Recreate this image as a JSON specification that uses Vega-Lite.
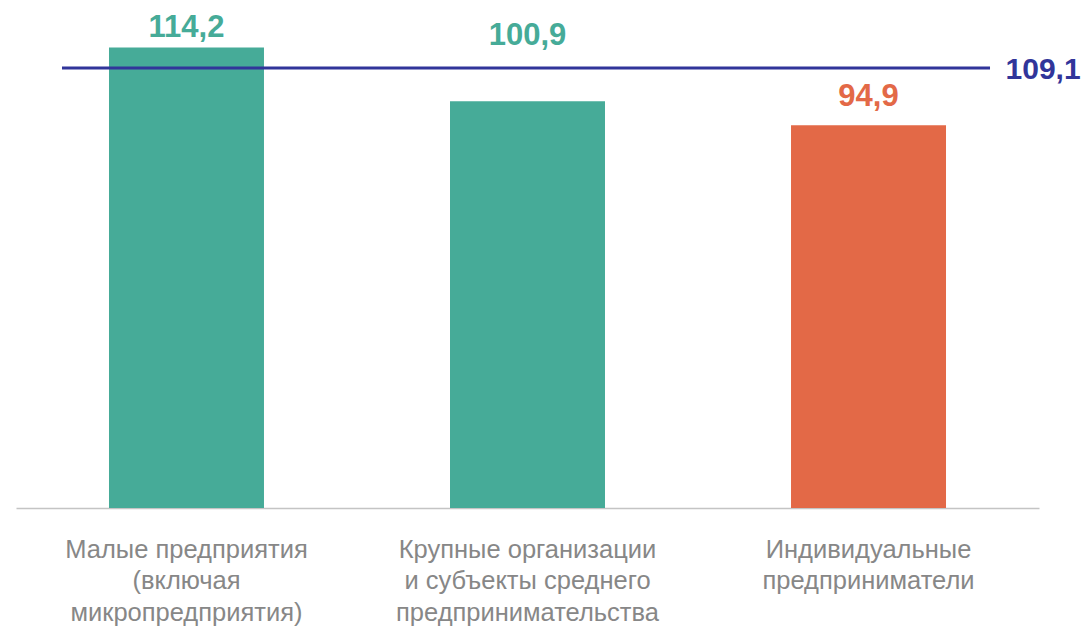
{
  "$schema": "https://vega.github.io/schema/vega-lite/v6.json",
  "width": 1023,
  "height": 504,
  "autosize": {"type": "none"},
  "padding": {"left": 16, "top": 4, "right": 47, "bottom": 119},
  "background": "white",
  "config": {"view": {"stroke": null}, "font": "Liberation Sans"},
  "datasets": {
    "bars": [
      {"cat": "Малые предприятия (включая микропредприятия)", "value": 114.2, "label": "114,2", "group": "growth"},
      {"cat": "Крупные организации и субъекты среднего предпринимательства", "value": 100.9, "label": "100,9", "group": "growth"},
      {"cat": "Индивидуальные предприниматели", "value": 94.9, "label": "94,9", "group": "decline"}
    ],
    "total": [
      {"value": 109.1, "label": "109,1"}
    ]
  },
  "data": {"name": "bars"},
  "encoding": {
    "x": {
      "field": "cat",
      "type": "nominal",
      "sort": null,
      "scale": {"paddingInner": 0.5455, "paddingOuter": 0.2727},
      "axis": {
        "title": null,
        "labelAngle": 0,
        "ticks": false,
        "domainColor": "#c4c4c4",
        "domainWidth": 1.5,
        "labelFont": "Liberation Sans",
        "labelFontSize": 25.5,
        "labelColor": "#878787",
        "labelPadding": 49,
        "labelLineHeight": 31.5,
        "labelBaseline": "alphabetic",
        "labelLimit": 400,
        "labelExpr": "datum.value == 'Малые предприятия (включая микропредприятия)' ? ['Малые предприятия', '(включая', 'микропредприятия)'] : datum.value == 'Крупные организации и субъекты среднего предпринимательства' ? ['Крупные организации', 'и субъекты среднего', 'предпринимательства'] : ['Индивидуальные', 'предприниматели']"
      }
    },
    "y": {
      "field": "value",
      "type": "quantitative",
      "scale": {"domain": [0, 125], "nice": false, "zero": true},
      "axis": null
    },
    "color": {
      "field": "group",
      "type": "nominal",
      "scale": {"domain": ["growth", "decline"], "range": ["#46AB98", "#E36947"]},
      "legend": null
    }
  },
  "layer": [
    {"mark": {"type": "bar"}},
    {
      "transform": [{"filter": "datum.cat == 'Малые предприятия (включая микропредприятия)'"}],
      "mark": {"type": "text", "fontSize": 31, "fontWeight": "bold", "baseline": "alphabetic", "dy": -11},
      "encoding": {"text": {"field": "label"}}
    },
    {
      "transform": [{"filter": "datum.cat == 'Крупные организации и субъекты среднего предпринимательства'"}],
      "mark": {"type": "text", "fontSize": 31, "fontWeight": "bold", "baseline": "alphabetic", "dy": -56},
      "encoding": {"text": {"field": "label"}}
    },
    {
      "transform": [{"filter": "datum.cat == 'Индивидуальные предприниматели'"}],
      "mark": {"type": "text", "fontSize": 31, "fontWeight": "bold", "baseline": "alphabetic", "dy": -19},
      "encoding": {"text": {"field": "label"}}
    },
    {
      "data": {"name": "total"},
      "mark": {"type": "rule", "color": "#31359A", "strokeWidth": 3, "xOffset": -124.5, "x2Offset": 121.5},
      "encoding": {
        "x": {"datum": "Малые предприятия (включая микропредприятия)"},
        "x2": {"datum": "Индивидуальные предприниматели"},
        "y": {"field": "value", "type": "quantitative"},
        "color": {"value": "#31359A"}
      }
    },
    {
      "data": {"name": "total"},
      "mark": {"type": "text", "color": "#31359A", "fontSize": 30, "fontWeight": "bold", "align": "left", "baseline": "alphabetic", "dx": 137, "dy": 11},
      "encoding": {
        "x": {"datum": "Индивидуальные предприниматели"},
        "y": {"field": "value", "type": "quantitative"},
        "text": {"field": "label"},
        "color": {"value": "#31359A"}
      }
    }
  ]
}
